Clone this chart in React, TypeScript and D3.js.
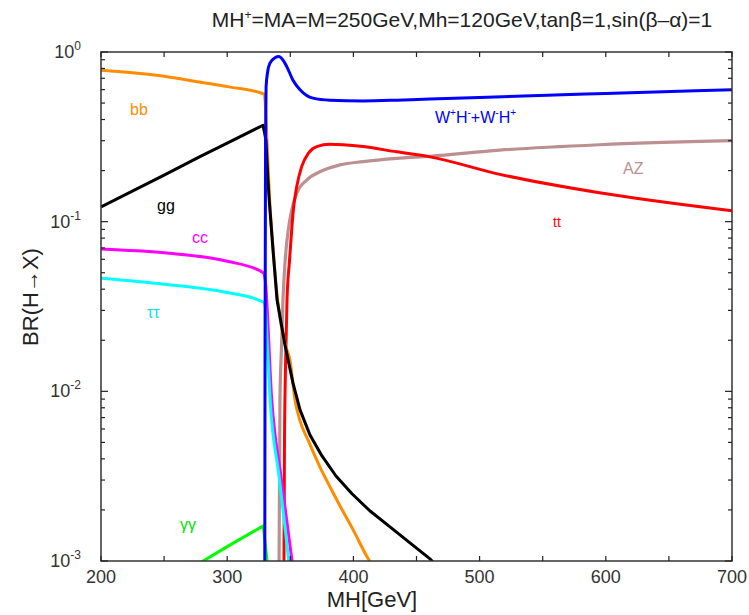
import React from "react";
import * as d3 from "d3";

type P = [number, number];

const bbData: P[] = [[200, 0.78], [250, 0.72], [278, 0.665], [300, 0.625], [329.4, 0.565], [330.5, 0.45], [331.5, 0.3], [333.5, 0.14], [336.3, 0.07], [339.9, 0.0346], [346.1, 0.0188], [349.7, 0.0153], [353.7, 0.0089], [357.7, 0.00669], [364, 0.00517], [373.5, 0.00358], [381.5, 0.00273], [389.4, 0.00211], [399.7, 0.00153], [410.8, 0.00106], [414.7, 0.00095]];
const ggData: P[] = [[200, 0.122], [250, 0.188], [278.4, 0.242], [300, 0.29], [328.4, 0.37], [330.7, 0.303], [332.3, 0.176], [333.3, 0.134], [336.3, 0.0682], [339.5, 0.0346], [345.8, 0.01877], [352.1, 0.01121], [357.7, 0.00777], [365.6, 0.00553], [375.1, 0.00416], [386.2, 0.00317], [398.9, 0.00249], [413.2, 0.00197], [429, 0.00159], [444.8, 0.00128], [460.7, 0.00103], [465.5, 0.00094]];
const ccData: P[] = [[200, 0.069], [250, 0.0655], [300, 0.0585], [328.6, 0.05], [330, 0.046], [335.3, 0.0089], [343, 0.003], [351, 0.00105], [353, 0.0008]];
const tautauData: P[] = [[200, 0.0464], [250, 0.0428], [300, 0.0382], [328.5, 0.0336], [330, 0.032], [331.3, 0.0222], [334, 0.0089], [341, 0.0032], [348.4, 0.00105], [350, 0.0008]];
const gamgamData: P[] = [[278, 0.00097], [302, 0.00124], [328.6, 0.00161], [331.3, 0.00105], [332, 0.0009]];
const ttData: P[] = [[344.9, 0.0003], [345, 0.001], [345.4, 0.005], [346.3, 0.015], [347.4, 0.0345], [349.4, 0.0595], [351.1, 0.0894], [352.4, 0.117], [355.1, 0.161], [359, 0.211], [364.3, 0.253], [370.9, 0.277], [381.5, 0.286], [392, 0.284], [407.8, 0.277], [434.3, 0.258], [460.7, 0.241], [516, 0.19], [595, 0.148], [700, 0.116]];
const azData: P[] = [[340.9, 0.0003], [341.1, 0.001], [341.8, 0.0089], [343, 0.018], [344.2, 0.0345], [346, 0.06], [348.4, 0.0894], [351.1, 0.117], [355.1, 0.147], [363, 0.176], [373.5, 0.197], [389.4, 0.216], [407.8, 0.226], [434.3, 0.236], [460.7, 0.243], [516, 0.264], [595, 0.284], [700, 0.3]];
const whData: P[] = [[329.7, 0.0003], [330, 0.02], [330.4, 0.3], [330.8, 0.62], [332, 0.76], [333.9, 0.86], [337.9, 0.925], [341, 0.94], [344, 0.9], [347.4, 0.815], [352, 0.684], [357.7, 0.6], [368, 0.535], [381.5, 0.52], [407.6, 0.515], [434.5, 0.52], [460.7, 0.528], [500, 0.54], [600, 0.57], [700, 0.6]];

const xTickValues = [200, 300, 400, 500, 600, 700];
const yDecades = [0, -1, -2, -3];

const series = [
  { name: "AZ", data: azData, color: "#bc9090", width: 3.2, smooth: true },
  { name: "tt", data: ttData, color: "#ff0000", width: 3, smooth: true },
  { name: "bb", data: bbData, color: "#ff8c00", width: 3, smooth: true },
  { name: "gg", data: ggData, color: "#000000", width: 3, smooth: false },
  { name: "cc", data: ccData, color: "#ff00ff", width: 3, smooth: true },
  { name: "tautau", data: tautauData, color: "#00ffff", width: 3, smooth: true },
  { name: "gamgam", data: gamgamData, color: "#00ff00", width: 3, smooth: false },
  { name: "WH", data: whData, color: "#0000ff", width: 3, smooth: true },
];

const L = 101, R = 732, T = 52, B = 561;
const FONT = "'Liberation Sans', Arial, sans-serif";

export default function App() {
  const x = d3.scaleLinear().domain([200, 700]).range([L, R]);
  const y = d3.scaleLog().domain([1e-3, 1]).range([B, T]);
  const smoothLine = d3.line<P>().x(d => x(d[0])).y(d => y(d[1])).curve(d3.curveMonotoneX);
  const straightLine = d3.line<P>().x(d => x(d[0])).y(d => y(d[1])).curve(d3.curveLinear);

  const xMinor = d3.range(200, 701, 50);
  const yTicks: { v: number; major: boolean }[] = [];
  for (let e = -3; e < 0; e++) {
    for (let m = 1; m < 10; m++) yTicks.push({ v: m * Math.pow(10, e), major: m === 1 });
  }
  yTicks.push({ v: 1, major: true });

  const labelStyle = { fontFamily: FONT };
  return (
    <svg width={749} height={615} style={{ position: "absolute", left: 0, top: 0, background: "#fff" }}>
      <defs>
        <clipPath id="plotclip">
          <rect x={L} y={T} width={R - L} height={B - T} />
        </clipPath>
      </defs>
      <text x={462} y={27} textAnchor="middle" fontSize={21} fill="#222" style={labelStyle}>
        MH<tspan dy={-8} fontSize={12}>+</tspan><tspan dy={8}>=MA=M=250GeV,Mh=120GeV,tanβ=1,sin(β–α)=1</tspan>
      </text>
      <g clipPath="url(#plotclip)">
        {series.map(s => (
          <path key={s.name} d={(s.smooth ? smoothLine : straightLine)(s.data) || ""} fill="none" stroke={s.color} strokeWidth={s.width} strokeLinejoin="round" />
        ))}
      </g>
      <rect x={L} y={T} width={R - L} height={B - T} fill="none" stroke="#333" strokeWidth={1.5} />
      {xMinor.map(v => (
        <g key={"xt" + v}>
          <line x1={x(v)} x2={x(v)} y1={B} y2={B - 5} stroke="#222" strokeWidth={1.2} />
          <line x1={x(v)} x2={x(v)} y1={T} y2={T + 5} stroke="#222" strokeWidth={1.2} />
        </g>
      ))}
      {yTicks.map((t, i) => (
        <g key={"yt" + i}>
          <line x1={L} x2={L + (t.major ? 7 : 4)} y1={y(t.v)} y2={y(t.v)} stroke="#222" strokeWidth={1.2} />
          <line x1={R} x2={R - (t.major ? 7 : 4)} y1={y(t.v)} y2={y(t.v)} stroke="#222" strokeWidth={1.2} />
        </g>
      ))}
      {xTickValues.map(v => (
        <text key={"xl" + v} x={x(v)} y={583} textAnchor="middle" fontSize={18} fill="#333" style={labelStyle}>{v}</text>
      ))}
      {yDecades.map(e => (
        <text key={"yl" + e} x={81} y={y(Math.pow(10, e)) + 6} textAnchor="end" fontSize={18} fill="#333" style={labelStyle}>
          10<tspan dy={-8} fontSize={12}>{e === 0 ? "0" : "-" + Math.abs(e)}</tspan>
        </text>
      ))}
      <text x={372} y={607} textAnchor="middle" fontSize={22} fill="#222" style={labelStyle}>MH[GeV]</text>
      <text transform="translate(38,297) rotate(-90)" textAnchor="middle" fontSize={22} fill="#222" style={labelStyle}>BR(H→X)</text>

      <text x={130} y={115} fontSize={16} fill="#ff8c00" style={labelStyle}>bb</text>
      <text x={157} y={211} fontSize={16} fill="#000" style={labelStyle}>gg</text>
      <text x={192} y={243} fontSize={16} fill="#ff00ff" style={labelStyle}>cc</text>
      <text x={147} y={318} fontSize={16} fill="#00e5e5" style={labelStyle}>ττ</text>
      <text x={180} y={530} fontSize={16} fill="#00e000" style={labelStyle}>γγ</text>
      <text x={553} y={227} fontSize={14} fill="#ff0000" style={labelStyle}>tt</text>
      <text x={623} y={174} fontSize={16} fill="#bc9090" style={labelStyle}>AZ</text>
      <text x={435} y={123} fontSize={16} fill="#0000ff" style={labelStyle}>
        W<tspan dy={-7} fontSize={10}>+</tspan><tspan dy={7}>H</tspan><tspan dy={-7} fontSize={10}>-</tspan><tspan dy={7}>+W</tspan><tspan dy={-7} fontSize={10}>-</tspan><tspan dy={7}>H</tspan><tspan dy={-7} fontSize={10}>+</tspan>
      </text>
    </svg>
  );
}
